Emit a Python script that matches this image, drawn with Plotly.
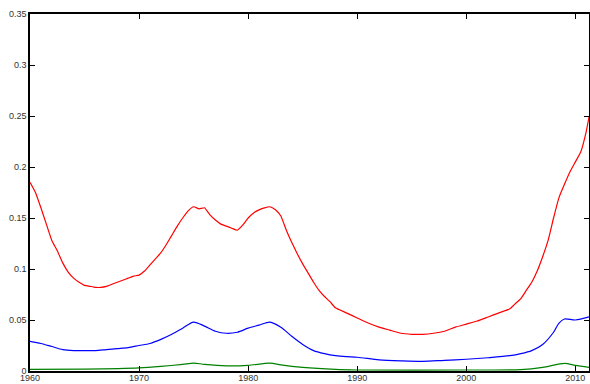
import plotly.graph_objects as go

years_red = [1960.0, 1960.5, 1961.0, 1961.5, 1962.0, 1962.5, 1963.0, 1963.5, 1964.0, 1964.5, 1965.0, 1965.5,
             1966.0, 1966.5, 1967.0, 1967.5, 1968.0, 1968.5, 1969.0, 1969.5, 1970.0, 1970.5, 1971.0, 1971.5,
             1972.0, 1972.5, 1973.0, 1973.5, 1974.0, 1974.5, 1975.0, 1975.5, 1976.0, 1976.5, 1977.0, 1977.5,
             1978.0, 1978.5, 1979.0, 1979.5, 1980.0, 1980.5, 1981.0, 1981.5, 1982.0, 1982.5, 1983.0, 1983.5,
             1984.0, 1984.5, 1985.0, 1985.5, 1986.0, 1986.5, 1987.0, 1987.5, 1988.0, 1989.0, 1990.0, 1991.0,
             1992.0, 1993.0, 1994.0, 1995.0, 1996.0, 1997.0, 1998.0, 1999.0, 2000.0, 2001.0, 2002.0, 2003.0,
             2004.0, 2004.5, 2005.0, 2005.5, 2006.0, 2006.5, 2007.0, 2007.5, 2008.0, 2008.5, 2009.0, 2009.5,
             2010.0, 2010.5, 2011.0, 2011.25]
red = [0.185, 0.175, 0.160, 0.144, 0.128, 0.118, 0.106, 0.097, 0.091, 0.087, 0.084, 0.083,
       0.082, 0.082, 0.083, 0.085, 0.087, 0.089, 0.091, 0.093, 0.094, 0.098, 0.104, 0.110,
       0.116, 0.124, 0.133, 0.142, 0.150, 0.157, 0.161, 0.159, 0.160, 0.153, 0.148, 0.144,
       0.142, 0.140, 0.138, 0.143, 0.150, 0.155, 0.158, 0.160, 0.161, 0.158, 0.152, 0.138,
       0.126, 0.115, 0.105, 0.096, 0.087, 0.079, 0.073, 0.068, 0.062, 0.057, 0.052, 0.047,
       0.043, 0.040, 0.037, 0.036, 0.036, 0.037, 0.039, 0.043, 0.046, 0.049, 0.053, 0.057,
       0.061, 0.066, 0.071, 0.079, 0.087, 0.098, 0.112, 0.128, 0.150, 0.170, 0.183, 0.195,
       0.205, 0.215, 0.235, 0.249]

years_blue = [1960, 1961, 1962, 1963, 1964, 1965, 1966, 1967, 1968, 1969, 1970, 1971, 1972, 1973, 1974,
              1975, 1976, 1977, 1978, 1979, 1980, 1981, 1982, 1983, 1984, 1985, 1986, 1987, 1988, 1989,
              1990, 1992, 1994, 1996, 1998, 2000, 2002, 2004, 2005, 2006, 2007, 2008, 2008.5, 2009, 2010,
              2011.25]
blue = [0.029, 0.027, 0.024, 0.021, 0.020, 0.020, 0.020, 0.021, 0.022, 0.023, 0.025, 0.027, 0.031, 0.036, 0.042,
        0.048, 0.044, 0.039, 0.037, 0.038, 0.042, 0.045, 0.048, 0.043, 0.034, 0.026, 0.020, 0.017, 0.015, 0.014,
        0.0135, 0.011, 0.010, 0.0095, 0.0105, 0.0115, 0.013, 0.015, 0.017, 0.020, 0.026, 0.038, 0.047, 0.051, 0.050,
        0.053]

years_green = [1960, 1965, 1970, 1972, 1974, 1975, 1976, 1978, 1980, 1982, 1983, 1985, 1988, 1990,
               2000, 2005, 2007, 2009, 2010, 2011.25]
green = [0.0015, 0.0018, 0.003, 0.0045, 0.0065, 0.0078, 0.0065, 0.005, 0.0055, 0.0078, 0.006, 0.0035, 0.0015, 0.001,
         0.001, 0.0013, 0.0035, 0.0075, 0.0055, 0.0035]

x_ticks = [1960, 1970, 1980, 1990, 2000, 2010]
y_ticks = [0, 0.05, 0.1, 0.15, 0.2, 0.25, 0.3, 0.35]
y_labels = ["0", "0.05", "0.1", "0.15", "0.2", "0.25", "0.3", "0.35"]

fig = go.Figure()
fig.add_trace(go.Scatter(x=years_red, y=red, mode="lines", line=dict(color="#ff0000", width=1.2, shape="spline", smoothing=0.4)))
fig.add_trace(go.Scatter(x=years_blue, y=blue, mode="lines", line=dict(color="#0000ff", width=1.2, shape="spline", smoothing=0.8)))
fig.add_trace(go.Scatter(x=years_green, y=green, mode="lines", line=dict(color="#008000", width=1.2, shape="spline", smoothing=0.8)))

axis_common = dict(showgrid=False, zeroline=False, showline=True, linecolor="black", linewidth=1.5,
                   mirror="ticks", ticks="inside", ticklen=5, tickwidth=1, tickcolor="black", automargin=False,
                   tickfont=dict(family="Liberation Sans, Arial, sans-serif", size=9, color="#333333"))

fig.update_layout(
    width=590, height=384, margin=dict(l=30, r=1, t=14, b=13, autoexpand=False),
    paper_bgcolor="white", plot_bgcolor="white", showlegend=False,
    xaxis=dict(range=[1960, 2011.25], tickvals=x_ticks, ticktext=[str(v) for v in x_ticks],
               ticklabelstandoff=-3, **axis_common),
    yaxis=dict(range=[0, 0.35], tickvals=y_ticks, ticktext=y_labels, **axis_common),
)
fig.write_html("out.html")
